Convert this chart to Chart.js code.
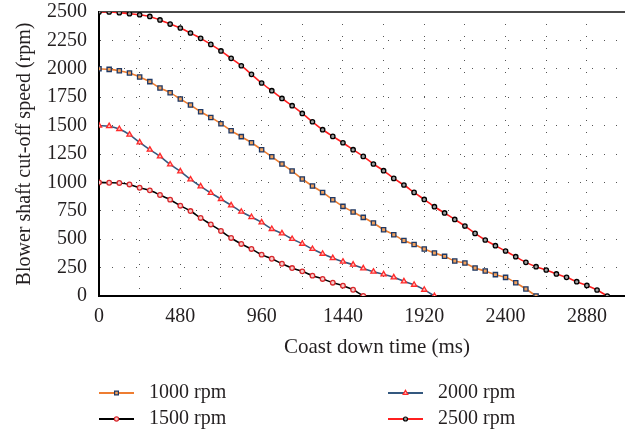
<!DOCTYPE html>
<html>
<head>
<meta charset="utf-8">
<title>Coast down</title>
<script src="https://cdn.jsdelivr.net/npm/chart.js@4.4.1/dist/chart.umd.min.js"></script>
<style>
    html, body { margin: 0; padding: 0; background: #fff; }
    #wrap { width: 625px; height: 431px; }
</style>
</head>
<body>
<div id="wrap"><canvas id="chart" width="625" height="431"></canvas></div>
<script>
// coast down time in ms, one sample every 60 ms
const timeMs = [0, 60, 120, 180, 240, 300, 360, 420, 480, 540, 600, 660, 720, 780, 840, 900,
    960, 1020, 1080, 1140, 1200, 1260, 1320, 1380, 1440, 1500, 1560, 1620, 1680, 1740, 1800,
    1860, 1920, 1980, 2040, 2100, 2160, 2220, 2280, 2340, 2400, 2460, 2520, 2580, 2640, 2700,
    2760, 2820, 2880, 2940, 3000];

// series named after their legend label (as printed in the figure)
const speed1000 = [2000, 1995, 1983, 1963, 1928, 1887, 1831, 1790, 1734, 1681, 1622, 1572, 1517,
    1455, 1403, 1349, 1288, 1226, 1162, 1100, 1030, 968, 912, 848, 789, 739, 692, 643, 584, 540,
    489, 454, 414, 379, 349, 308, 290, 246, 220, 188, 164, 117, 62, 0];
const speed2000 = [1500, 1495, 1470, 1420, 1352, 1288, 1229, 1158, 1097, 1026, 965, 907, 854, 798,
    742, 695, 648, 590, 551, 502, 460, 414, 372, 334, 302, 276, 243, 214, 190, 164, 129, 99, 55, 0];
const speed1500 = [1000, 997, 995, 982, 953, 930, 889, 848, 795, 748, 687, 630, 572, 511, 458, 414,
    364, 328, 284, 246, 217, 179, 150, 117, 91, 55, 0];
const speed2500 = [2500, 2500, 2494, 2485, 2476, 2461, 2430, 2394, 2359, 2315, 2268, 2215, 2157,
    2092, 2027, 1951, 1875, 1807, 1739, 1675, 1607, 1534, 1464, 1405, 1349, 1288, 1229, 1162, 1103,
    1035, 977, 912, 850, 786, 731, 674, 616, 551, 493, 443, 396, 346, 296, 258, 229, 194, 164, 126,
    93, 53, 0];

const xTicks = [0, 240, 480, 720, 960, 1200, 1440, 1680, 1920, 2160, 2400, 2640, 2880];
const xLabelEvery = 480;
const yStep = 250;

const FONT = 'Liberation Serif, Times New Roman, serif';
const TEXT = '#231f20';

const toPoints = (vals) => vals.map((v, i) => ({ x: timeMs[i], y: v }));

const series = [
    { label: '1000 rpm', data: speed1000, line: '#ee7d31', style: 'rect', radius: 3, fill: '#f2a25e', edge: '#1f3864' },
    { label: '2000 rpm', data: speed2000, line: '#34587f', style: 'triangle', radius: 3, fill: '#ffc4c4', edge: '#ff2a2a' },
    { label: '1500 rpm', data: speed1500, line: '#000000', style: 'circle', radius: 2.3, fill: '#f6cccc', edge: '#d8282c' },
    { label: '2500 rpm', data: speed2500, line: '#ff1f1f', style: 'circle', radius: 2.2, fill: '#a0a0a0', edge: '#000000' }
];

// legend drawn by hand: two columns, row-major order
const legendPlugin = {
    id: 'figLegend',
    afterDraw(chart) {
        const ctx = chart.ctx;
        const cols = [99, 388];
        const rows = [393, 419];
        ctx.save();
        series.forEach((s, i) => {
            const x = cols[i % 2];
            const y = rows[Math.floor(i / 2)];
            ctx.strokeStyle = s.line;
            ctx.lineWidth = 2;
            ctx.beginPath();
            ctx.moveTo(x, y);
            ctx.lineTo(x + 35, y);
            ctx.stroke();
            ctx.fillStyle = s.fill;
            ctx.strokeStyle = s.edge;
            ctx.lineWidth = 1.2;
            Chart.helpers.drawPoint(ctx, { pointStyle: s.style, radius: s.radius * 0.9, rotation: 0, borderWidth: 1.2 }, x + 17.5, y);
            ctx.fillStyle = TEXT;
            ctx.font = '20px ' + FONT;
            ctx.textAlign = 'left';
            ctx.textBaseline = 'middle';
            ctx.fillText(s.label, x + 50, y);
        });
        // x axis title, sits a bit right of the plot centre in the figure
        ctx.font = '21px ' + FONT;
        ctx.textAlign = 'center';
        ctx.fillText('Coast down time (ms)', chart.chartArea.left + 278, chart.chartArea.bottom + 51);
        ctx.restore();
    }
};

// solid frame line along the top of the plot
const topLinePlugin = {
    id: 'topLine',
    beforeDatasetsDraw(chart) {
        const { ctx, chartArea } = chart;
        ctx.save();
        ctx.strokeStyle = '#4a4a4a';
        ctx.lineWidth = 2;
        ctx.beginPath();
        ctx.moveTo(chartArea.left, chartArea.top);
        ctx.lineTo(chartArea.right, chartArea.top);
        ctx.stroke();
        ctx.restore();
    }
};

new Chart(document.getElementById('chart'), {
    type: 'line',
    data: {
        datasets: series.map(s => ({
            label: s.label,
            data: toPoints(s.data),
            borderColor: s.line,
            borderWidth: 1.6,
            tension: 0.25,
            pointStyle: s.style,
            pointRadius: s.radius,
            pointBackgroundColor: s.fill,
            pointBorderColor: s.edge,
            pointBorderWidth: 1.3,
            fill: false
        }))
    },
    options: {
        responsive: false,
        animation: false,
        events: [],
        layout: { autoPadding: false, padding: { top: 12, right: 0, bottom: 105, left: 0 } },
        plugins: {
            legend: { display: false },
            tooltip: { enabled: false }
        },
        scales: {
            x: {
                type: 'linear',
                min: 0,
                max: 3105,
                afterBuildTicks: (scale) => {
                    scale.ticks = xTicks.map(v => ({ value: v }));
                },
                afterFit: (scale) => {
                    scale.height = 30;
                    scale.paddingLeft = 0;
                    scale.paddingRight = 0;
                },
                ticks: {
                    autoSkip: false,
                    maxRotation: 0,
                    padding: 9,
                    color: TEXT,
                    font: { family: FONT, size: 20 },
                    callback: (v) => (v % xLabelEvery === 0 ? String(v) : '')
                },
                grid: { color: '#555', lineWidth: 1, drawTicks: false },
                border: { display: true, color: '#000', width: 2, dash: [1, 11] }
            },
            y: {
                min: 0,
                max: 2500,
                afterFit: (scale) => {
                    scale.width = 99;
                    scale.paddingTop = 0;
                    scale.paddingBottom = 0;
                },
                ticks: {
                    stepSize: yStep,
                    padding: 12,
                    color: TEXT,
                    font: { family: FONT, size: 20 },
                    callback: (v) => String(v)
                },
                grid: { color: '#555', lineWidth: 1, drawTicks: false },
                border: { display: true, color: '#000', width: 2, dash: [1, 11] },
                title: {
                    display: true,
                    text: 'Blower shaft cut-off speed (rpm)',
                    color: TEXT,
                    font: { family: FONT, size: 20 },
                    padding: { top: 13, bottom: 0 }
                }
            }
        }
    },
    plugins: [legendPlugin, topLinePlugin]
});
</script>
</body>
</html>
